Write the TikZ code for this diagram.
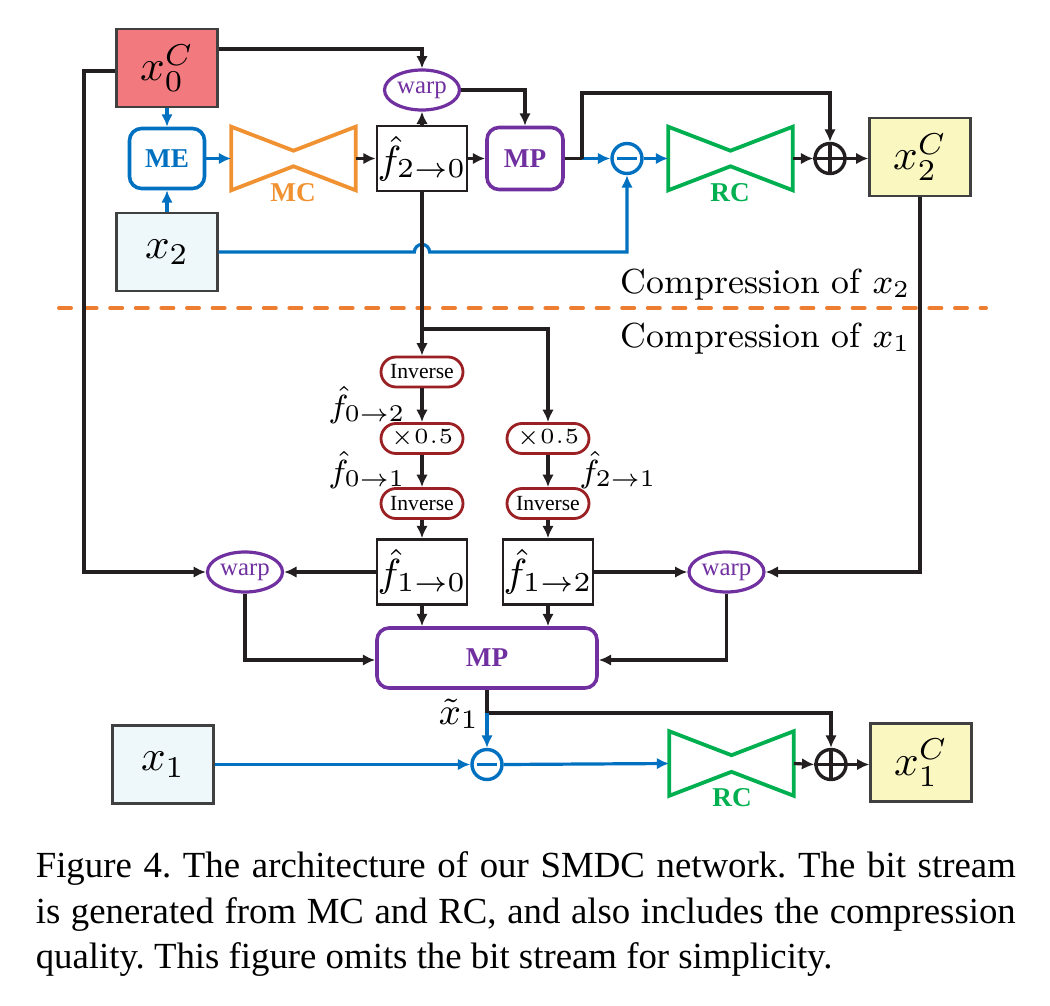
\RequirePackage{fix-cm}
\documentclass[tikz,border=0pt]{standalone}
\usepackage{fontspec}
\newfontfamily\tms{Liberation Serif}
\usetikzlibrary{arrows.meta,shapes.geometric,calc}

\definecolor{lnk}{RGB}{35,31,32}
\definecolor{cblue}{RGB}{0,112,192}
\definecolor{corange}{RGB}{240,146,50}
\definecolor{cdash}{RGB}{237,125,49}
\definecolor{cgreen}{RGB}{0,176,80}
\definecolor{cpurple}{RGB}{112,48,160}
\definecolor{cred}{RGB}{155,32,35}
\definecolor{fillred}{RGB}{242,122,126}
\definecolor{fillblue}{RGB}{238,247,250}
\definecolor{fillyellow}{RGB}{251,247,192}
\definecolor{boxline}{RGB}{64,64,64}

\newcommand\fsz[2]{\fontsize{#1}{#2}\selectfont}
% bow-tie outline of a codec drawn inside an (invisible) node
\newcommand\drawtie[2]{%
  \draw[#2, line width=0.95pt, line join=miter]
    (#1.north west) -- ([yshift=-6pt]#1.north) -- (#1.north east)
    -- (#1.south east) -- ([yshift=6pt]#1.south) -- (#1.south west) -- cycle;}
\newcommand\minusmark[1]{\draw[cblue, line width=0.95pt] ([xshift=-2.5pt]#1.center) -- ([xshift=2.5pt]#1.center);}
\newcommand\plusmark[1]{\draw[lnk, line width=0.8pt] (#1.north) -- (#1.south) (#1.west) -- (#1.east);}

\tikzset{
  arr/.style={-{Latex[length=3.1pt,width=2.9pt]}, draw=lnk, line width=0.8pt},
  barr/.style={arr, draw=cblue},
  xbox/.style={draw=boxline, line width=0.55pt, inner sep=0pt,
    minimum width=25.25pt, minimum height=19.5pt, font=\fsz{10.8}{12}},
  fbox/.style={draw=lnk, line width=0.65pt, inner sep=0pt,
    minimum width=22.5pt, minimum height=16.25pt, font=\fsz{9.8}{11}},
  unit/.style={rounded corners=3pt, line width=0.9pt, inner sep=0pt,
    font=\tms\bfseries\fsz{6.8}{8}},
  tiebox/.style={inner sep=0pt, minimum width=30.75pt, minimum height=15.5pt},
  tielbl/.style={inner sep=0pt, font=\tms\bfseries\fsz{6.8}{8}},
  warpnode/.style={ellipse, draw=cpurple, text=cpurple, line width=0.8pt,
    inner sep=0pt, minimum width=18.75pt, minimum height=10pt, font=\tms\fsz{6.2}{7}},
  pill/.style={draw=cred, line width=0.7pt, rounded corners=3.75pt, inner sep=0pt,
    minimum width=20.5pt, minimum height=7.5pt, font=\tms\fsz{5.4}{6}},
  opc/.style={circle, line width=0.85pt, inner sep=0pt, minimum size=7.5pt},
  sidelbl/.style={inner sep=0pt, font=\fsz{8}{9}},
  caplbl/.style={inner sep=0pt, font=\fsz{8.7}{10}},
  captext/.style={anchor=base west, inner sep=0pt, font=\tms\fsz{9.2}{11.4}}
}

\begin{document}
\frenchspacing
\begin{tikzpicture}[x=0.25pt,y=-0.25pt]
\useasboundingbox (0,0) rectangle (1050,1006);

% ---------------- compression of x2 ----------------
\node[xbox, fill=fillred] (x0c) at (167,68) {$x_0^C$};
\node[xbox, fill=fillblue] (x2) at (167,252) {$x_2$};
\node[unit, draw=cblue, text=cblue, minimum width=18.75pt, minimum height=15pt] (me) at (167,158.5) {ME};
\node[tiebox] (mc) at (293.5,158.5) {};
\drawtie{mc}{corange}
\node[tielbl, text=corange] (mclbl) at (293,193) {MC};
\node[fbox] (f20) at (422,158.5) {$\hat f_{2\to0}$};
\node[warpnode] (warpT) at (422,90) {warp};
\node[unit, draw=cpurple, text=cpurple, minimum width=19pt, minimum height=15.5pt] (mpT) at (525,158.5) {MP};
\node[opc, draw=cblue] (minT) at (627,158.5) {};
\minusmark{minT}
\node[tiebox] (rcT) at (730.5,158.5) {};
\drawtie{rcT}{cgreen}
\node[tielbl, text=cgreen] (rclblT) at (730,193) {RC};
\node[opc, draw=lnk] (plusT) at (830,158.5) {};
\plusmark{plusT}
\node[xbox, fill=fillyellow] (x2c) at (920,157) {$x_2^C$};

\draw[barr] (x0c.south) -- (me.north);
\draw[barr] (x2.north) -- (me.south);
\draw[barr] (me.east) -- (mc.west);
\draw[arr] (mc.east) -- (f20.west);
\draw[arr] ([yshift=-5.25pt]x0c.north east) -| (warpT.north);
\draw[arr] (f20.north) -- (warpT.south);
\draw[arr] (warpT.east) -| (mpT.north);
\draw[arr] (f20.east) -- (mpT.west);
\coordinate (jT) at (582,158.5);
\coordinate (jTup) at (582,93);
\draw[lnk, line width=0.8pt] (mpT.east) -- (jT);
\draw[barr] (jT) -- (minT.west);
\draw[arr] (jT) -- (jTup) -| (plusT.north);
\draw[barr] (minT.east) -- (rcT.west);
\draw[arr] (rcT.east) -- (plusT.west);
\draw[arr] (plusT.east) -- (plusT.east -| x2c.west);
\coordinate (hop) at (422,252);
\draw[barr] (x2.east) -- ([xshift=-1.9pt]hop) arc[start angle=180, end angle=0, radius=1.9pt] -| (minT.south);

% ---------------- separator ----------------
\node[caplbl, anchor=base west] (cx2) at (620,293) {Compression of $x_2$};
\coordinate (dl) at (59,308);
\coordinate (dr) at (986,308);
\draw[cdash, line width=1pt, line cap=round, dash pattern=on 3pt off 3.4pt] (dl) -- (dr);
\node[caplbl, anchor=base west] (cx1) at (620,347) {Compression of $x_1$};

% ---------------- flow inversion / scaling ----------------
\node[pill] (inv1) at (422,372) {Inverse};
\node[pill] (hal1) at (422,438.5) {${\times}0.5$};
\node[pill] (inv2) at (422,503.5) {Inverse};
\node[pill] (hal2) at (548,438.5) {${\times}0.5$};
\node[pill] (inv3) at (548,503.5) {Inverse};
\node[sidelbl] (l02) at (367,405) {$\hat f_{0\to2}$};
\node[sidelbl] (l01) at (367,470) {$\hat f_{0\to1}$};
\node[sidelbl] (l21) at (618,470) {$\hat f_{2\to1}$};

\coordinate (br) at (422,329);
\draw[arr] (f20.south) -- (inv1.north);
\draw[arr] (br) -| (hal2.north);
\draw[arr] (inv1.south) -- (hal1.north);
\draw[arr] (hal1.south) -- (inv2.north);
\draw[arr] (hal2.south) -- (inv3.north);

% ---------------- compression of x1 ----------------
\node[fbox] (f10) at (422,572) {$\hat f_{1\to0}$};
\node[fbox] (f12) at (548,572) {$\hat f_{1\to2}$};
\node[warpnode] (warpL) at (245,572) {warp};
\node[warpnode] (warpR) at (726.5,572) {warp};
\node[unit, draw=cpurple, text=cpurple, minimum width=55pt, minimum height=15pt] (mpB) at (487,658) {MP};
\node[sidelbl, font=\fsz{9.5}{10}] (xt1) at (459,714) {$\tilde x_1$};
\node[xbox, fill=fillblue] (x1) at (163,764.5) {$x_1$};
\node[opc, draw=cblue] (minB) at (487,764.5) {};
\minusmark{minB}
\node[tiebox, minimum height=15.75pt] (rcB) at (731.5,763.5) {};
\drawtie{rcB}{cgreen}
\node[tielbl, text=cgreen] (rclblB) at (732,798) {RC};
\node[opc, draw=lnk] (plusB) at (831,764.5) {};
\plusmark{plusB}
\node[xbox, fill=fillyellow] (x1c) at (921,762.5) {$x_1^C$};

\draw[arr] (inv2.south) -- (f10.north);
\draw[arr] (inv3.south) -- (f12.north);
\coordinate (lbus) at (84,572);
\draw[arr] ([yshift=-0.75pt]x0c.west) -| (lbus) -- (warpL.west);
\draw[arr] (f10.west) -- (warpL.east);
\draw[arr] (f12.east) -- (warpR.west);
\draw[arr] (x2c.south) |- (warpR.east);
\draw[arr] (warpL.south) |- ([yshift=-0.5pt]mpB.west);
\draw[arr] (warpR.south) |- ([yshift=-0.5pt]mpB.east);
\draw[arr] (f10.south) -- (f10.south |- mpB.north);
\draw[arr] (f12.south) -- (f12.south |- mpB.north);
\coordinate (jB) at (487,713);
\draw[lnk, line width=0.8pt] (mpB.south) -- (jB);
\draw[arr] (jB) -| (plusB.north);
\draw[barr] (jB) -- (minB.north);
\draw[barr] (x1.east) -- (minB.west);
\draw[barr] (minB.east) -- (rcB.west);
\draw[arr] (rcB.east) -- (plusB.west);
\draw[arr] (plusB.east) -- (plusB.east -| x1c.west);

% ---------------- caption ----------------
\node[captext] (cap1) at (35,877) {\makebox[245pt][s]{Figure 4. The architecture of our SMDC network. The bit stream}};
\node[captext] (cap2) at (35,923) {\makebox[245pt][s]{is generated from MC and RC, and also includes the compression}};
\node[captext] (cap3) at (35,968) {quality. This figure omits the bit stream for simplicity.};
\end{tikzpicture}
\end{document}
